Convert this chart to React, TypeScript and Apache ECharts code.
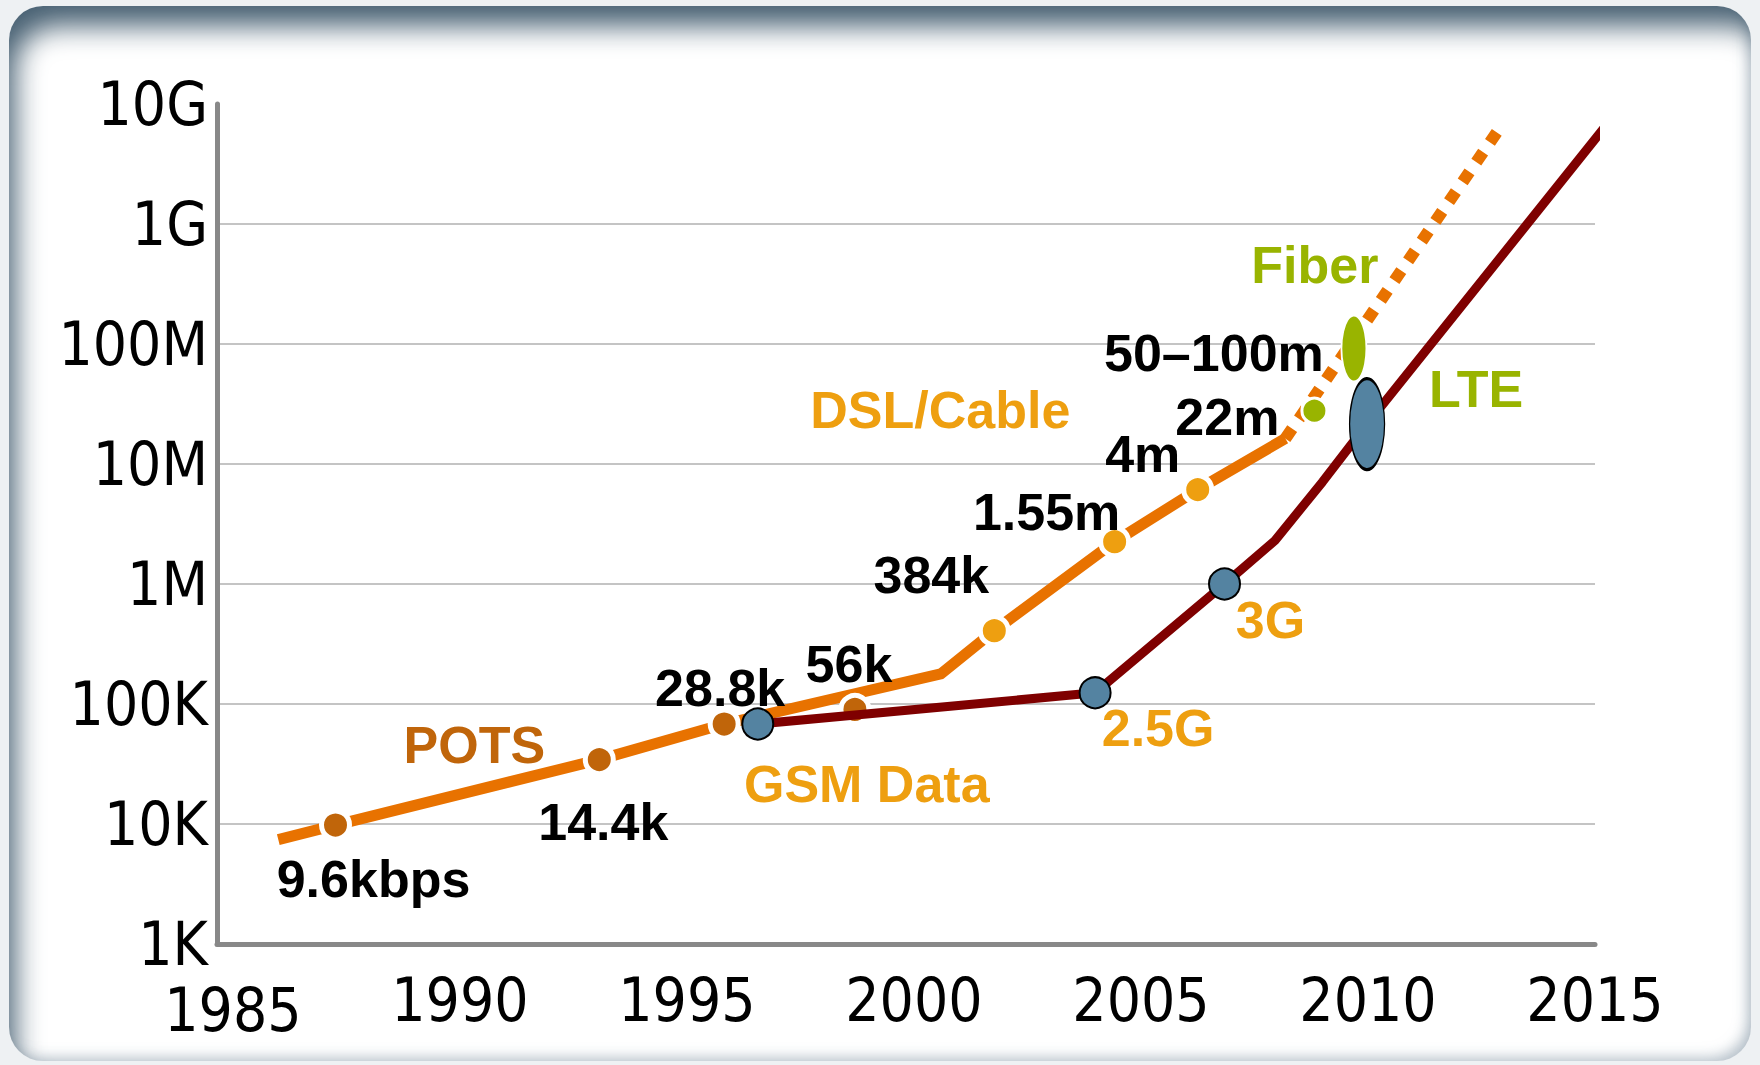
import React, { useEffect, useRef } from "react";
import * as echarts from "echarts";

// ---------- axis ticks ----------
const yearTicks = [1985, 1990, 1995, 2000, 2005, 2010, 2015];
const rateTicks = [1e3, 1e4, 1e5, 1e6, 1e7, 1e8, 1e9, 1e10];
const rateTickLabels = ["1K", "10K", "100K", "1M", "10M", "100M", "1G", "10G"];

// ---------- wireline path (POTS -> DSL/Cable), bps ----------
const wireYears = [1986.0, 1987.26, 1993.07, 1995.82, 2000.59, 2001.77, 2004.42, 2006.25, 2008.18];
const wireBps = [7400, 9800, 34400, 68100, 178000, 408000, 2250000, 6120000, 16300000];

// ---------- projected fiber trend (dotted) ----------
const trendYears = [2008.18, 2012.88];
const trendBps = [16300000, 6.12e9];

// ---------- cellular path ----------
const cellYears = [1996.56, 2003.99, 2006.84, 2007.95, 2009.0, 2009.98, 2015.37];
const cellBps = [68100, 124000, 1000000, 2300000, 7100000, 21500000, 7.6e9];

// ---------- milestone dots ----------
const potsDotNames = ["9.6kbps", "14.4k", "28.8k", "56k"];
const potsDotYears = [1987.26, 1993.07, 1995.82, 1998.7];
const potsDotBps = [9800, 34400, 68100, 90000];

const dslDotNames = ["384k", "1.55m", "4m"];
const dslDotYears = [2001.77, 2004.42, 2006.25];
const dslDotBps = [408000, 2250000, 6120000];

const fiberDotNames = ["22m", "50–100m"];
const fiberDotYears = [2008.82, 2009.69];
const fiberDotBps = [27800000, 91800000];

const cellDotNames = ["GSM Data", "2.5G", "3G", "LTE"];
const cellDotYears = [1996.56, 2003.99, 2006.84, 2009.98];
const cellDotBps = [68100, 124000, 1000000, 21500000];

// ---------- colours ----------
const ORANGE = "#E87200";
const BROWN = "#C0650A";
const AMBER = "#EE9F10";
const GREEN = "#99B400";
const DARKRED = "#7F0000";
const BLUE = "#5483A1";

// label text -> [anchor dot name, offset x, offset y, colour]
const labelSpecs: [string, string, number, number, string][] = [
  ["9.6kbps", "9.6kbps", 38, 54, "#000"],
  ["14.4k", "14.4k", 4, 62, "#000"],
  ["28.8k", "28.8k", -4, -36, "#000"],
  ["56k", "56k", -6, -45, "#000"],
  ["384k", "384k", -63, -56, "#000"],
  ["1.55m", "1.55m", -68, -30, "#000"],
  ["4m", "4m", -55, -36, "#000"],
  ["22m", "22m", -87, 6, "#000"],
  ["50–100m", "50–100m", -140, 5, "#000"],
  ["Fiber", "50–100m", -39, -83, GREEN],
  ["LTE", "LTE", 109, -35, GREEN],
  ["GSM Data", "GSM Data", 109, 60, AMBER],
  ["2.5G", "2.5G", 63, 35, AMBER],
  ["3G", "3G", 46, 36, AMBER],
  ["POTS", "14.4k", -125, -15, BROWN],
  ["DSL/Cable", "384k", -54, -221, AMBER],
];

const AXIS_FONT = "'Comic Sans MS', 'Liberation Sans Narrow', 'DejaVu Sans Condensed', sans-serif";
const LABEL_FONT = "'Liberation Sans', Arial, sans-serif";

function zip(xs: number[], ys: number[]) {
  return xs.map((x, i) => [x, ys[i]]);
}

export default function App() {
  const ref = useRef<HTMLDivElement>(null);

  useEffect(() => {
    if (!ref.current) return;
    const chart = echarts.init(ref.current, null, { renderer: "svg" });

    const anchors: Record<string, number[]> = {};
    const addAnchors = (names: string[], ys: number[], vs: number[]) =>
      names.forEach((n, i) => (anchors[n] = [ys[i], vs[i]]));
    addAnchors(potsDotNames, potsDotYears, potsDotBps);
    addAnchors(dslDotNames, dslDotYears, dslDotBps);
    addAnchors(fiberDotNames, fiberDotYears, fiberDotBps);
    addAnchors(cellDotNames, cellDotYears, cellDotBps);

    const labelData = labelSpecs.map(([text, anchor, dx, dy, color]) => ({
      value: anchors[anchor],
      label: {
        show: true,
        position: "inside",
        formatter: text,
        offset: [dx, dy],
        color,
        opacity: 1,
        fontSize: 52,
        fontWeight: "bold",
        fontFamily: LABEL_FONT,
      },
    }));

    const yearStyle = { fontSize: 60, color: "#000", fontFamily: AXIS_FONT };

    const option: any = {
      animation: false,
      backgroundColor: "transparent",
      grid: { left: 217, right: 165, top: 104, bottom: 121, containLabel: false, outerBoundsMode: "none" },
      xAxis: {
        type: "value",
        min: 1984.65,
        max: 2015,
        axisLine: { show: true, lineStyle: { color: "#888888", width: 5 } },
        axisTick: { show: false },
        splitLine: { show: false },
        axisLabel: {
          customValues: yearTicks,
          showMinLabel: true,
          showMaxLabel: true,
          ...yearStyle,
          margin: 26,
          formatter: (v: number) => {
            const y = Math.round(v);
            return y === yearTicks[0] ? `{low|${y}}` : `{n|${y}}`;
          },
          rich: {
            low: { ...yearStyle, padding: [10, 0, 0, 0] },
            n: { ...yearStyle },
          },
        },
      },
      yAxis: {
        type: "log",
        logBase: 10,
        min: rateTicks[0],
        max: rateTicks[rateTicks.length - 1],
        axisLine: { show: true, onZero: false, lineStyle: { color: "#888888", width: 5 } },
        axisTick: { show: false },
        splitLine: {
          show: true,
          showMinLine: false,
          showMaxLine: false,
          lineStyle: { color: "#C4C4C4", width: 2 },
        },
        axisLabel: {
          fontSize: 60,
          color: "#000",
          fontFamily: AXIS_FONT,
          margin: 9,
          padding: [12, 0, 0, 0],
          formatter: (v: number) => {
            const i = rateTicks.findIndex((t) => Math.abs(Math.log10(t) - Math.log10(v)) < 1e-6);
            return i >= 0 ? rateTickLabels[i] : "";
          },
        },
      },
      series: [
        {
          name: "POTS / DSL",
          type: "line",
          data: zip(wireYears, wireBps),
          symbol: "none",
          clip: false,
          silent: true,
          z: 2,
          lineStyle: { color: ORANGE, width: 11, join: "round" },
        },
        {
          name: "Fiber trend",
          type: "line",
          data: zip(trendYears, trendBps),
          symbol: "none",
          clip: false,
          silent: true,
          z: 2,
          lineStyle: { color: ORANGE, width: 12, type: [12, 12] },
        },
        {
          name: "POTS dots",
          type: "scatter",
          data: zip(potsDotYears, potsDotBps),
          symbolSize: 28,
          clip: false,
          silent: true,
          z: 3,
          itemStyle: { color: BROWN, borderColor: "#fff", borderWidth: 5, opacity: 1 },
        },
        {
          name: "DSL dots",
          type: "scatter",
          data: zip(dslDotYears, dslDotBps),
          symbolSize: 28,
          clip: false,
          silent: true,
          z: 3,
          itemStyle: { color: AMBER, borderColor: "#fff", borderWidth: 5, opacity: 1 },
        },
        {
          name: "Fiber dots",
          type: "scatter",
          data: [
            { value: [fiberDotYears[0], fiberDotBps[0]], symbolSize: 25 },
            { value: [fiberDotYears[1], fiberDotBps[1]], symbolSize: [25, 69] },
          ],
          clip: false,
          silent: true,
          z: 3,
          itemStyle: { color: GREEN, borderColor: "#fff", borderWidth: 3, opacity: 1 },
        },
        {
          name: "Cellular",
          type: "line",
          data: zip(cellYears, cellBps),
          symbol: "none",
          clip: false,
          silent: true,
          z: 4,
          lineStyle: { color: DARKRED, width: 9, join: "round" },
        },
        {
          name: "Cellular dots",
          type: "scatter",
          data: cellDotYears.map((y, i) => ({
            value: [y, cellDotBps[i]],
            symbolSize: cellDotNames[i] === "LTE" ? [35, 91] : 31,
          })),
          clip: false,
          silent: true,
          z: 5,
          itemStyle: { color: BLUE, borderColor: "#000", borderWidth: 2, opacity: 1 },
        },
        {
          name: "Labels",
          type: "scatter",
          data: labelData,
          symbolSize: 1,
          clip: false,
          silent: true,
          z: 6,
          itemStyle: { color: "transparent", opacity: 1 },
        },
      ],
    };

    chart.setOption(option);
    return () => chart.dispose();
  }, []);

  return (
    <div style={{ position: "absolute", left: 0, top: 0, width: 1760, height: 1065, background: "#eef1f3", overflow: "hidden" }}>
      <div
        style={{
          position: "absolute",
          left: 9,
          top: 6,
          width: 1742,
          height: 1055,
          borderRadius: 34,
          background: "#ffffff",
          boxShadow:
            "inset 14px 28px 28px -8px rgba(66,92,110,0.97), inset -8px -8px 14px -5px rgba(120,140,156,0.55)",
        }}
      />
      <div ref={ref} style={{ position: "absolute", left: 0, top: 0, width: 1760, height: 1065 }} />
    </div>
  );
}
